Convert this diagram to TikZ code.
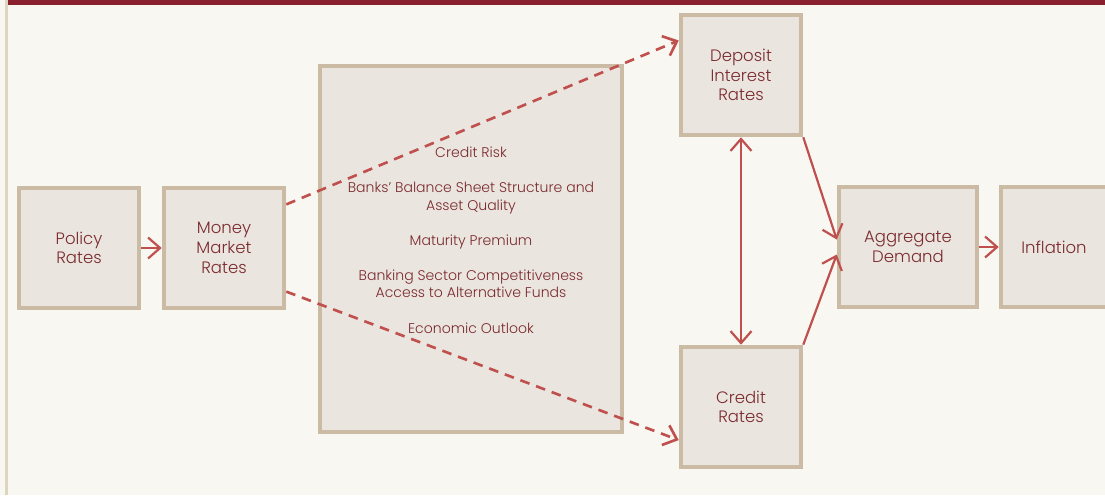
\documentclass[tikz,border=0pt]{standalone}
\usepackage{fontspec}
\setmainfont{Poppins}[UprightFont=* Light]
\usetikzlibrary{arrows.meta}
\definecolor{boxfill}{HTML}{EBE5DF}
\definecolor{boxline}{HTML}{CBBBA5}
\definecolor{ink}{HTML}{7A2A2E}
\definecolor{arrowred}{HTML}{C0504D}
\definecolor{paper}{HTML}{F8F7F2}
\definecolor{margin}{HTML}{DDD5C0}
\definecolor{topbar}{HTML}{8A1F2E}
\begin{document}
\begin{tikzpicture}[x=0.02cm,y=-0.02cm,
  >={Straight Barb[length=2.4mm,width=4.2mm]},
  stage/.style={draw=boxline,fill=boxfill,line width=2.6pt,
                minimum width=2.4cm,minimum height=2.4cm,align=center,
                text=ink,font=\fontsize{9.4}{11.2}\selectfont},
  link/.style={draw=arrowred,line width=1.25pt,->},
  hop/.style={link,line width=1.5pt,dash pattern=on 5.5pt off 4pt}]
  \clip (0,0) rectangle (1105,495);
  \fill[paper] (0,0) rectangle (1105,495);
  \fill[margin] (5,0) rectangle (8,495);
  \fill[topbar] (8,0) rectangle (1105,5);

  \node[stage] (policy)    at (79,248)  {Policy\\Rates};
  \node[stage] (money)     at (224,248) {Money\\Market\\Rates};
  \node[stage,minimum width=6.04cm,minimum height=7.32cm]
               (factors)   at (471,249) {};
  \node[text=ink,align=center,font=\fontsize{8}{10}\selectfont]
               (factorlist) at (471,240)
    {Credit Risk\\[10pt]
     Banks' Balance Sheet Structure and\\Asset Quality\\[10pt]
     Maturity Premium\\[10pt]
     Banking Sector Competitiveness\\Access to Alternative Funds\\[10pt]
     Economic Outlook};
  \node[stage] (deposit)   at (741,75)  {Deposit\\Interest\\Rates};
  \node[stage] (credit)    at (741,407) {Credit\\Rates};
  \node[stage,minimum width=2.76cm]
               (aggregate) at (908,247) {Aggregate\\Demand};
  \node[stage,minimum width=2.12cm]
               (inflation) at (1054,247) {Inflation};

  \draw[link] (policy) -- (money);
  \draw[hop]  (money.35)  -- (deposit.151);
  \draw[hop]  (money.-35) -- (credit.208);
  \draw[link,<->] (deposit) -- (credit);
  \draw[link] (deposit.south east) -- (aggregate.174);
  \draw[link] (credit.north east)  -- (aggregate.186);
  \draw[link] (aggregate) -- (inflation);
\end{tikzpicture}
\end{document}
